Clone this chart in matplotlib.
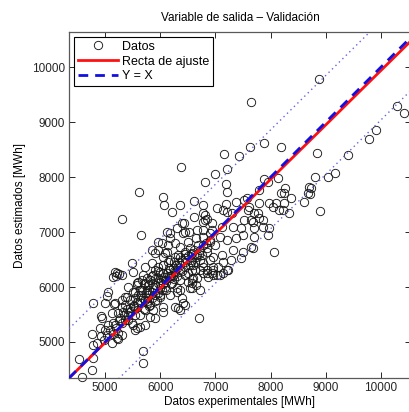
import matplotlib
matplotlib.use("Agg")
import matplotlib.pyplot as plt
import numpy as np

plt.rcParams['font.family'] = ['Liberation Sans', 'DejaVu Sans']

x_exp = [
 7636, 8873, 10291, 10418, 9909, 9782, 9400, 8836, 8182, 9164, 9036, 8800, 8727, 8709, 8600, 8891,
 8327, 8364, 8255, 8236, 8236, 8218, 7873, 7618, 7418, 7164, 7218, 6382, 6818, 7000, 7200, 7218,
 7200, 7036, 6618, 6782, 6364, 6055, 6073, 6218, 5618, 5309, 5655, 7873, 8127, 7945, 8673, 8691,
 8055, 7691, 7582, 7364, 7673, 7782, 7782, 8182, 8036, 8145, 8091, 7964, 7782, 7764, 7600, 7636,
 7691, 7691, 7855, 7964, 7945, 7855, 7509, 7455, 7491, 7636, 7491, 7327, 7218, 7364, 7091, 7000,
 6909, 6855, 7127, 6964, 6782, 6964, 7145, 7273, 7455, 7673, 6855, 7036, 7218, 6909, 6782, 7218,
 6782, 6818, 6945, 7127, 7327, 7145, 7564, 7509, 7309, 6436, 6618, 6818, 6855, 6782, 6309, 6127,
 6182, 6418, 6527,
 4527, 4764, 4582, 4782, 4782, 4855, 4764, 4927, 4945, 5055, 4782, 5036, 5055, 5182, 5691, 5691,
 5909, 6364, 6418, 6709, 5218, 5236, 5309, 5582, 5509, 5127, 5145, 5218, 6582, 6582, 6782, 7091,
 6945, 7145, 7236, 5000, 5164, 5309, 5364, 4927, 5236, 5327, 5455, 5545, 5582, 5145, 4909, 5000,
 5236, 5545, 5636, 5727, 5418, 5491, 5127, 5491, 5509, 5182, 5255, 5200, 5855, 5909, 5964, 6091,
 5855, 5727, 5691, 5600, 5727, 5636, 5509, 5309, 6182, 6400, 6455, 6673, 6945, 6909, 6782, 6691,
 6545, 6909, 6964, 6873, 6600, 6727, 6545, 6309, 6400, 6273, 6455, 6055, 5873, 5764, 5636, 5400,
 5418, 5582, 5673, 5764, 5873, 5873, 5964, 6055, 6127, 6273, 6364, 6236, 6364, 6218, 6000, 6782,
 6764, 6636, 6582, 6455, 6455, 6582, 6182, 6055, 5964, 6091, 5782, 5545, 5309, 5636, 5818, 6727,
 6855, 6273, 6145, 6036, 5964, 6055, 6327, 6582, 6309, 6964, 6855, 7055, 6673,
 5364, 5418, 5473, 5527, 5582, 5691, 5745, 5800, 5855, 5909, 5964, 6018, 6073, 6127, 6182, 6236,
 6291, 6345, 6400, 6455, 6509, 6564, 6618, 6673, 6727, 6782, 6836, 5818, 5909, 6000, 6091, 6182,
 6273, 6364, 6455, 6545, 6636, 6727, 5727, 5545, 5455, 5364, 5273, 5182, 5091, 5036, 4982, 6000,
 6145, 6327, 6509, 6655, 5818, 5945, 5727, 5600, 5673, 5782, 5909, 6036, 6182, 6364, 6509, 6655,
 5750, 5800, 5850, 5900, 5950, 6000, 6050, 6100, 6150, 6200, 6250, 6300, 6350, 6400, 6450, 6500,
 6550, 6600, 5650, 5700, 5600, 5550, 5500, 5450, 5400, 5350, 5300, 5250, 5200, 5150, 5850, 5950,
 6050, 6150, 6250, 6350, 6450, 6550, 6650, 6700, 5800, 5900, 6000, 6100, 6200, 6300, 5700, 5750,
 6050, 6250,
]
y_est = [
 9364, 9782, 9291, 9164, 8855, 8691, 8400, 8436, 8545, 8073, 8000, 8000, 7800, 7691, 7545, 7382,
 7345, 7618, 7800, 7709, 7527, 7400, 8618, 8545, 8382, 8418, 8145, 8182, 7909, 8055, 7873, 7727,
 7509, 7436, 7564, 7491, 7491, 7636, 7491, 7364, 7727, 7236, 6945, 7964, 7982, 7909, 7709, 7818,
 6636, 7345, 7400, 7545, 7182, 7255, 7764, 7709, 7455, 7400, 7527, 7527, 7527, 7345, 7455, 7218,
 7073, 6909, 7091, 7073, 6945, 7218, 7218, 7073, 6945, 6727, 6636, 6673, 6855, 6891, 6909, 6764,
 6818, 6636, 6582, 6545, 6436, 6364, 6455, 6491, 6527, 6709, 6309, 6218, 6309, 6982, 7036, 7364,
 7345, 7218, 7164, 7091, 7091, 7400, 7618, 7582, 7345, 7164, 7273, 7309, 7236, 7182, 7073, 7000,
 6982, 6982, 7000,
 4691, 4491, 4360, 4709, 4945, 4982, 5145, 5109, 5436, 5309, 5709, 5836, 5909, 5709, 4836, 4618,
 5436, 5582, 5709, 5436, 5073, 5164, 5127, 5255, 5309, 5527, 6182, 6255, 5982, 6145, 6255, 6218,
 6255, 6255, 6309, 5709, 5691, 5764, 5818, 5473, 5527, 5545, 5618, 5909, 6073, 5345, 5255, 5218,
 5055, 5218, 5273, 5309, 5400, 5345, 4982, 6436, 6273, 6273, 6236, 6200, 6673, 6618, 6818, 6618,
 6436, 6364, 6218, 6091, 6073, 5945, 5909, 6218, 6891, 7164, 7000, 7036, 7036, 6855, 6909, 6764,
 6709, 6491, 6309, 6182, 6164, 5945, 5982, 5982, 5800, 5636, 5673, 5636, 5582, 5709, 5764, 5818,
 6000, 6036, 6127, 6164, 6000, 6218, 6364, 6545, 6636, 6545, 6727, 6345, 6309, 6073, 5818, 6364,
 6582, 6455, 6309, 6364, 6527, 6618, 6491, 6400, 6164, 6000, 5855, 5618, 5636, 5491, 5455, 6309,
 6709, 6800, 6764, 6800, 6673, 5545, 5618, 6073, 5909, 6218, 6255, 6364, 6164,
 5400, 5491, 5564, 5655, 5727, 5800, 5891, 5945, 5909, 6036, 6073, 6127, 6182, 6255, 6309, 6218,
 6400, 6455, 6491, 6636, 6564, 6491, 6673, 6582, 6673, 6764, 6800, 6127, 5855, 5982, 6127, 6164,
 6273, 6127, 6218, 6400, 6309, 6491, 5764, 5491, 5764, 5673, 5436, 5309, 5218, 5127, 5036, 6273,
 6455, 6582, 6818, 6891, 5673, 5764, 5582, 5855, 5945, 6036, 6309, 5945, 5855, 5945, 6091, 6036,
 5950, 6050, 5800, 6150, 5900, 6100, 6250, 5950, 6350, 6050, 6450, 6200, 6550, 6300, 6450, 6250,
 6600, 6400, 5850, 6050, 5700, 5800, 5650, 5550, 5600, 5500, 5350, 5400, 5250, 5150, 6200, 6300,
 6400, 6200, 6300, 6400, 6600, 6450, 6550, 6600, 5650, 5750, 5850, 6100, 6200, 6350, 5600, 5750,
 6050, 6150,
]

# Fit line and prediction band half-width
fit_slope = 0.99
fit_intercept = 40.0
band_halfwidth = 900.0

x_limits = [4345, 10545]
y_limits = [4345, 10640]
tick_values = [5000, 6000, 7000, 8000, 9000, 10000]
tick_labels = ['5000', '6000', '7000', '8000', '9000', '10000']

fig = plt.figure(figsize=(4.10, 4.12), dpi=100)
ax = fig.add_axes([69/410, 34/412, 342/410, 346/412])

xs = np.array(x_limits, dtype=float)
fit_y = fit_slope * xs + fit_intercept

h_data, = ax.plot(x_exp, y_est, linestyle='none', marker='o', markersize=6,
                  markerfacecolor='none', markeredgecolor='0.1', markeredgewidth=0.65,
                  label='Datos', clip_on=False, zorder=2)
h_fit, = ax.plot(xs, fit_y, color='#ff1010', lw=2.0, label='Recta de ajuste', zorder=3)
h_yx, = ax.plot(xs, xs, color='#1010e0', lw=2.0, linestyle=(0, (3.5, 2.5)), label='Y = X', zorder=4)
ax.plot(xs, fit_y + band_halfwidth, color='#6666dd', lw=1.0, linestyle=(0, (1, 2.5)), zorder=3)
ax.plot(xs, fit_y - band_halfwidth, color='#6666dd', lw=1.0, linestyle=(0, (1, 2.5)), zorder=3)

ax.set_xlim(x_limits)
ax.set_ylim(y_limits)
ax.set_xticks(tick_values)
ax.set_xticklabels(tick_labels)
ax.set_yticks(tick_values)
ax.set_yticklabels(tick_labels)
ax.tick_params(direction='in', length=4, width=0.7, top=True, right=True,
               labelsize=8.5, colors='0.15', pad=3)
for s in ax.spines.values():
    s.set_color('0.35')
    s.set_linewidth(0.9)

ax.set_title('Variable de salida \u2013 Validaci\u00f3n', fontsize=8.5, pad=8)
ax.set_xlabel('Datos experimentales [MWh]', fontsize=8.5, labelpad=1)
ax.set_ylabel('Datos estimados [MWh]', fontsize=8.5, labelpad=4)

leg = ax.legend(handles=[h_data, h_fit, h_yx], loc='upper left', fontsize=9,
                frameon=True, fancybox=False, framealpha=1, edgecolor='black',
                borderpad=0.3, labelspacing=0.22, handlelength=3.2, handletextpad=0.35,
                borderaxespad=0.4)
leg.get_frame().set_linewidth(0.8)

fig.savefig('out.png', dpi=100)
